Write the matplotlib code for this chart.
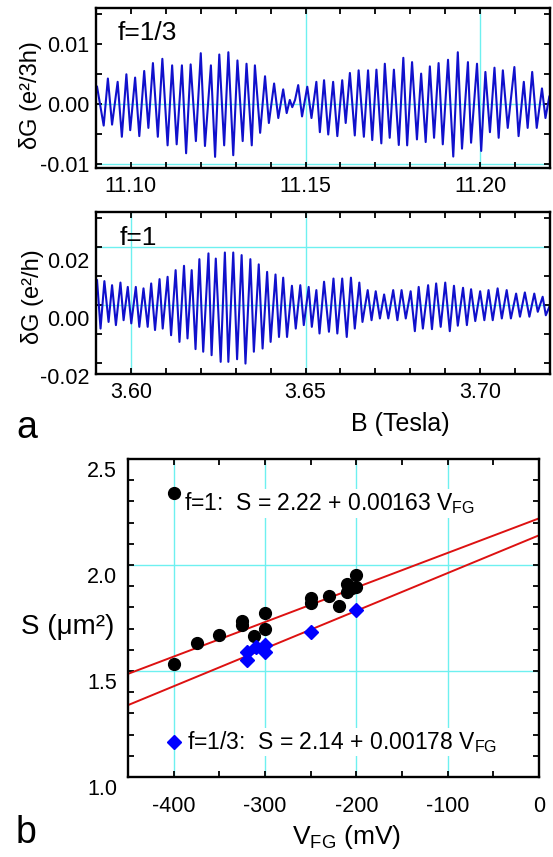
import numpy as np
import matplotlib
matplotlib.use("Agg")
import matplotlib.pyplot as plt
from matplotlib.ticker import MultipleLocator, FormatStrFormatter
from matplotlib.transforms import ScaledTranslation

plt.rcParams['font.family'] = ['Liberation Sans', 'DejaVu Sans']
plt.rcParams['mathtext.fontset'] = 'custom'
plt.rcParams['mathtext.rm'] = 'Liberation Sans'
plt.rcParams['mathtext.it'] = 'Liberation Sans:italic'
plt.rcParams['axes.unicode_minus'] = False

# --- panel a, f=1/3 : extrema of the oscillation trace (B in T, dG in 1e-3 e^2/3h)
b_third = [11.0903, 11.0922, 11.0934, 11.0946, 11.0962, 11.0974, 11.0987, 11.0998, 11.1012, 11.1024,
           11.1038, 11.1050, 11.1063, 11.1077, 11.1090, 11.1105, 11.1118, 11.1131, 11.1146, 11.1158,
           11.1171, 11.1186, 11.1200, 11.1212, 11.1229, 11.1241, 11.1253, 11.1267, 11.1279, 11.1293,
           11.1305, 11.1320, 11.1331, 11.1346, 11.1355, 11.1370, 11.1384, 11.1395, 11.1410, 11.1422,
           11.1436, 11.1446, 11.1455, 11.1462, 11.1470, 11.1479, 11.1490, 11.1505, 11.1517, 11.1531,
           11.1541, 11.1553,
           11.1565, 11.1579, 11.1591, 11.1605, 11.1615, 11.1627, 11.1641, 11.1652, 11.1667, 11.1679,
           11.1691, 11.1703, 11.1717, 11.1727, 11.1741, 11.1753, 11.1767, 11.1780, 11.1791, 11.1805,
           11.1819, 11.1831, 11.1844, 11.1856, 11.1868, 11.1881, 11.1893, 11.1908, 11.1923, 11.1936,
           11.1948, 11.1965, 11.1974, 11.1991, 11.2003, 11.2015, 11.2028, 11.2041, 11.2053, 11.2065,
           11.2079, 11.2098, 11.2110, 11.2125, 11.2136, 11.2149, 11.2162, 11.2177, 11.2187, 11.2198]
dg_third = [2.86, -3.62, 4.23, -3.46, 3.68, -5.49, 4.94, -4.39, 4.39, -5.38,
            5.49, -4.01, 6.81, -5.49, 7.52, -6.92, 6.43, -6.75, 6.43, -8.24,
            6.59, -6.21, 8.46, -7.03, 6.43, -8.84, 8.24, -6.92, 8.62, -8.57,
            7.25, -6.21, 6.70, -6.92, 6.43, -4.83, 4.61, -3.19, 3.40, -2.36,
            2.42, -1.54, 0.66, -0.55, 0.66, 3.13, -2.09, 2.86, -2.36, 3.68,
            -4.72, 3.95,
            -5.11, 3.68, -5.38, 3.95, -3.19, 5.16, -5.27, 5.60, -5.49, 5.60,
            -6.04, 5.71, -6.59, 6.70, -5.66, 5.71, -6.86, 7.69, -6.92, 6.97,
            -5.93, 5.05, -6.37, 6.26, -5.66, 6.81, -6.75, 7.36, -8.79, 8.62,
            -7.47, 6.97, -6.48, 6.70, -7.85, 5.33, -4.72, 6.04, -5.66, 5.60,
            -4.01, 6.15, -5.38, 3.68, -4.01, 5.33, -4.01, 2.58, -2.36, 1.21]

# --- panel a, f=1 : extrema (B in T, dG in 1e-3 e^2/h)
b_one = [3.5903, 3.5913, 3.5924, 3.5936, 3.5946, 3.5957, 3.5970, 3.5979, 3.5991, 3.6001,
         3.6014, 3.6024, 3.6036, 3.6048, 3.6058, 3.6069, 3.6082, 3.6091, 3.6105, 3.6115,
         3.6128, 3.6139, 3.6152, 3.6162, 3.6174, 3.6185, 3.6196, 3.6207, 3.6222, 3.6231,
         3.6243, 3.6257, 3.6269, 3.6279, 3.6293, 3.6304, 3.6317, 3.6328, 3.6342, 3.6352,
         3.6366, 3.6377, 3.6390, 3.6400, 3.6414, 3.6424, 3.6436, 3.6447, 3.6461, 3.6472,
         3.6485, 3.6495, 3.6509, 3.6518, 3.6531, 3.6540, 3.6553,
         3.6567, 3.6580, 3.6591, 3.6605, 3.6618, 3.6630, 3.6641, 3.6654, 3.6663, 3.6678,
         3.6689, 3.6701, 3.6713, 3.6725, 3.6737, 3.6751, 3.6763, 3.6775, 3.6787, 3.6801,
         3.6813, 3.6824, 3.6836, 3.6851, 3.6862, 3.6874, 3.6887, 3.6900, 3.6913, 3.6925,
         3.6936, 3.6951, 3.6962, 3.6974, 3.6986, 3.7000, 3.7012, 3.7024, 3.7036, 3.7050,
         3.7062, 3.7076, 3.7088, 3.7103, 3.7114, 3.7128, 3.7141, 3.7155, 3.7165, 3.7179,
         3.7188, 3.7198]
dg_one = [8.6, -8.1, 8.3, -5.8, 6.9, -6.9, 7.8, -5.2, 6.3, -6.3,
          6.3, -7.5, 5.8, -7.5, 7.5, -8.6, 9.0, -8.1, 9.8, -10.4,
          12.1, -12.7, 13.6, -11.5, 12.1, -15.2, 15.9, -16.1, 17.9, -17.3,
          16.1, -19.6, 18.2, -19.6, 18.2, -18.7, 17.3, -20.2, 15.9, -16.1,
          14.1, -15.0, 11.5, -12.7, 10.6, -11.0, 9.5, -11.0, 6.7, -8.1,
          6.9, -6.9, 6.3, -7.5, 5.2, -9.8, 8.1,
          -9.2, 9.2, -9.8, 9.2, -11.0, 9.5, -8.1, 7.8, -5.8, 5.2,
          -5.2, 4.8, -4.6, 3.7, -4.6, 5.2, -5.2, 5.2, -4.6, 4.8,
          -9.0, 6.3, -8.1, 6.9, -8.3, 7.5, -7.5, 7.8, -9.0, 6.7,
          -7.1, 6.0, -6.9, 5.5, -5.5, 4.8, -5.2, 5.2, -5.2, 5.8,
          -4.6, 5.2, -4.6, 4.0, -4.0, 4.4, -4.0, 4.0, -2.3, 2.9,
          -3.5, -0.6]

# --- panel b : area S vs front-gate voltage
v_f1 = [-400, -375, -350, -325, -325, -312, -300, -300, -250, -250, -230, -219, -210, -210, -205, -200, -200]
s_f1 = [1.533, 1.630, 1.670, 1.736, 1.717, 1.665, 1.772, 1.698, 1.843, 1.819, 1.854, 1.807, 1.910, 1.874, 1.890, 1.953, 1.898]
v_f13 = [-320, -320, -310, -300, -300, -250, -200]
s_f13 = [1.552, 1.591, 1.612, 1.623, 1.591, 1.686, 1.788]
fit_f1 = (2.22, 0.00163)
fit_f13 = (2.14, 0.00178)

W, H = 553, 857
GRID = '#6ef0f0'
TRACE = '#1010cc'
TICK_FS = 15.5


def box(l, t, r, b):
    return [l / W, 1 - b / H, (r - l) / W, (b - t) / H]


def style(ax):
    for s in ax.spines.values():
        s.set_linewidth(1.7)
    ax.tick_params(which='both', direction='in', top=True, right=True,
                   length=4.5, width=1.3, labelsize=TICK_FS)


def shift_ylabels(ax, dy_px):
    off = ScaledTranslation(0, -dy_px / 100, fig.dpi_scale_trans)
    for t in ax.yaxis.get_major_ticks():
        t.label1.set_transform(t.label1.get_transform() + off)


fig = plt.figure(figsize=(W / 100, H / 100), dpi=100)

# top trace
ax1 = fig.add_axes(box(96, 8, 550, 168))
style(ax1)
for y in [0.0, -0.01]:
    ax1.axhline(y, color=GRID, lw=1, zorder=0.5)
for x in [11.15, 11.20]:
    ax1.axvline(x, color=GRID, lw=1, zorder=0.5)
ax1.plot(b_third, np.array(dg_third) * 1e-3, color=TRACE, lw=1.5, zorder=2)
ax1.set_xlim(11.09, 11.22)
ax1.set_ylim(-0.0107, 0.016)
ax1.xaxis.set_major_locator(MultipleLocator(0.05))
ax1.xaxis.set_minor_locator(MultipleLocator(0.01))
ax1.yaxis.set_major_locator(MultipleLocator(0.01))
ax1.yaxis.set_minor_locator(MultipleLocator(0.005))
ax1.xaxis.set_major_formatter(FormatStrFormatter('%.2f'))
ax1.yaxis.set_major_formatter(FormatStrFormatter('%.2f'))
ax1.tick_params(axis='x', pad=6)
ax1.tick_params(axis='y', pad=5)
ax1.text(0.048, 0.845, 'f=1/3', transform=ax1.transAxes, fontsize=19, va='center', ha='left')
fig.text(30 / W, 1 - 95 / H, 'δG (e²/3h)', rotation=90, fontsize=17, ha='center', va='center')

# middle trace
ax2 = fig.add_axes(box(96, 212, 550, 374))
style(ax2)
for y in [0.02, 0.0]:
    ax2.axhline(y, color=GRID, lw=1, zorder=0.5)
for x in [3.60, 3.65]:
    ax2.axvline(x, color=GRID, lw=1, zorder=0.5)
ax2.plot(b_one, np.array(dg_one) * 1e-3, color=TRACE, lw=1.5, zorder=2)
ax2.set_xlim(3.59, 3.72)
ax2.set_ylim(-0.0238, 0.0322)
ax2.xaxis.set_major_locator(MultipleLocator(0.05))
ax2.xaxis.set_minor_locator(MultipleLocator(0.01))
ax2.yaxis.set_major_locator(MultipleLocator(0.02))
ax2.yaxis.set_minor_locator(MultipleLocator(0.01))
ax2.xaxis.set_major_formatter(FormatStrFormatter('%.2f'))
ax2.yaxis.set_major_formatter(FormatStrFormatter('%.2f'))
ax2.tick_params(axis='x', pad=6)
ax2.tick_params(axis='y', pad=5)
shift_ylabels(ax2, 13)
ax2.text(0.051, 0.84, 'f=1', transform=ax2.transAxes, fontsize=19, va='center', ha='left')
fig.text(33 / W, 1 - 297 / H, 'δG (e²/h)', rotation=90, fontsize=17, ha='center', va='center')
fig.text(400 / W, 1 - 424 / H, 'B (Tesla)', fontsize=18, ha='center', va='center')
fig.text(27 / W, 1 - 428 / H, 'a', fontsize=27, ha='center', va='center')

# panel b
ax3 = fig.add_axes(box(128, 459, 539, 777))
style(ax3)
for y in [2.0, 1.5]:
    ax3.axhline(y, color=GRID, lw=1, zorder=0.5)
for x in [-400, -300, -200, -100]:
    ax3.axvline(x, color=GRID, lw=1, zorder=0.5)
xs = np.array([-450, 0])
ax3.plot(xs, fit_f1[0] + fit_f1[1] * xs, color='#dd1111', lw=1.4, zorder=2)
ax3.plot(xs, fit_f13[0] + fit_f13[1] * xs, color='#dd1111', lw=1.4, zorder=2)
ax3.plot(v_f1, s_f1, 'o', color='black', ms=8.5, zorder=3)
ax3.plot(v_f13, s_f13, 'D', color='#0000ff', ms=7.5, zorder=3)
ax3.plot([-400], [2.34], 'o', color='black', ms=8.5, zorder=3)
ax3.plot([-400], [1.167], 'D', color='#0000ff', ms=7.5, zorder=3)
ax3.text(-389, 2.29, r'f=1:  S = 2.22 + 0.00163 V$_{\mathrm{FG}}$', fontsize=16.5, va='center', ha='left',
         zorder=2.5, bbox=dict(facecolor='white', edgecolor='none', pad=1))
ax3.text(-385, 1.165, r'f=1/3:  S = 2.14 + 0.00178 V$_{\mathrm{FG}}$', fontsize=16.5, va='center', ha='left',
         zorder=2.5, bbox=dict(facecolor='white', edgecolor='none', pad=1))
ax3.set_xlim(-450, 0)
ax3.set_ylim(1.0, 2.5)
ax3.xaxis.set_major_locator(MultipleLocator(100))
ax3.xaxis.set_minor_locator(MultipleLocator(50))
ax3.yaxis.set_major_locator(MultipleLocator(0.5))
ax3.yaxis.set_minor_locator(MultipleLocator(0.1))
ax3.xaxis.set_major_formatter(FormatStrFormatter('%d'))
ax3.yaxis.set_major_formatter(FormatStrFormatter('%.1f'))
ax3.tick_params(axis='x', pad=14)
ax3.tick_params(axis='y', pad=8)
shift_ylabels(ax3, 10)
fig.text(68 / W, 1 - 627 / H, 'S (μm²)', fontsize=20, ha='center', va='center')
fig.text(347 / W, 1 - 837 / H, r'V$_{\mathrm{FG}}$ (mV)', fontsize=19, ha='center', va='center')
fig.text(26 / W, 1 - 833 / H, 'b', fontsize=27, ha='center', va='center')

fig.savefig('out.png', dpi=100)
